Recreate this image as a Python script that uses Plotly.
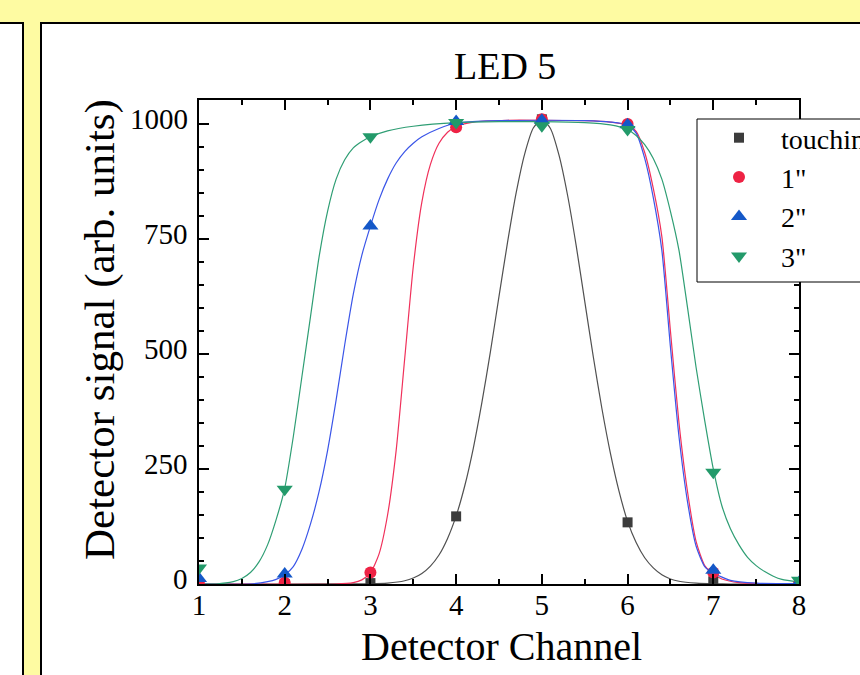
import plotly.graph_objects as go

# ---------------- data ----------------
channels = [1, 2, 3, 4, 5, 6, 7, 8]
touching = [0, 0, 2, 147, 1010, 134, 6, 0]
one_inch = [0, 3, 25, 993, 1010, 1000, 25, 0]
two_inch = [12, 22, 778, 1005, 1008, 998, 30, 3]
three_inch = [35, 206, 972, 1003, 996, 988, 243, 8]

y_tick_vals = [0, 250, 500, 750, 1000]
y_tick_text = ["0", "250", "500", "750", "1000"]

# fitted curves
fit_touch_x = [1.0, 2.0, 2.8, 3.0, 3.2, 3.4, 3.5, 3.6, 3.7, 3.8, 3.9, 4.0, 4.1, 4.2, 4.3, 4.4,
               4.5, 4.6, 4.7, 4.8, 4.9, 5.0, 5.1, 5.2, 5.3, 5.4, 5.5, 5.6, 5.7, 5.8, 5.9,
               6.0, 6.1, 6.2, 6.3, 6.4, 6.5, 6.6, 6.8, 7.0, 7.2, 8.0]
fit_touch_y = [0, 0, 0.3, 0.5, 2, 7, 13, 23, 39, 63, 99, 148, 213, 295, 394, 505,
               625, 743, 850, 935, 991, 1010, 990, 932, 845, 736, 615, 494, 382, 284, 202,
               136, 90, 57, 35, 20, 11, 6, 2, 0.5, 0, 0]

fit_one_x = [1.0, 2.6, 2.8, 2.9, 3.0, 3.1, 3.2, 3.3, 3.4, 3.5, 3.6, 3.7, 3.8, 3.9, 4.0, 4.2,
             4.6, 5.0, 5.5, 5.8, 6.0, 6.1, 6.2, 6.3, 6.4, 6.5, 6.6, 6.7, 6.8, 6.9, 7.0,
             7.1, 7.3, 7.6, 8.0]
fit_one_y = [0, 0, 3, 9, 24, 65, 150, 290, 490, 690, 830, 912, 958, 982, 995, 1004,
             1008, 1008, 1007, 1004, 997, 984, 938, 860, 755, 550, 350, 200, 92, 40, 21,
             11, 3, 0.5, 0]

fit_two_x = [1.0, 1.6, 1.8, 1.9, 2.0, 2.1, 2.2, 2.3, 2.4, 2.5, 2.6, 2.7, 2.8, 2.9, 3.0, 3.1,
             3.2, 3.3, 3.4, 3.5, 3.6, 3.8, 4.0, 4.3, 5.0, 5.5, 5.8, 6.0, 6.1, 6.2, 6.3,
             6.4, 6.5, 6.6, 6.7, 6.8, 6.9, 7.0, 7.2, 7.5, 8.0]
fit_two_y = [0, 0, 5, 10, 20, 38, 75, 130, 200, 290, 400, 520, 630, 715, 778, 835,
             880, 915, 940, 958, 972, 990, 1002, 1006, 1008, 1007, 1004, 998, 980, 925, 840,
             725, 515, 320, 178, 82, 38, 24, 8, 2, 1]

fit_three_x = [1.0, 1.2, 1.4, 1.5, 1.6, 1.7, 1.8, 1.9, 2.0, 2.1, 2.2, 2.3, 2.4, 2.5, 2.6, 2.7,
               2.8, 2.9, 3.0, 3.2, 3.5, 4.0, 4.5, 5.0, 5.5, 5.8, 6.0, 6.1, 6.2, 6.3, 6.4,
               6.5, 6.6, 6.7, 6.8, 6.9, 7.0, 7.1, 7.2, 7.3, 7.4, 7.5, 7.6, 7.7, 7.8, 8.0]
fit_three_y = [0, 0, 5, 12, 25, 48, 85, 140, 208, 320, 450, 580, 710, 810, 880, 922,
               948, 962, 972, 985, 995, 1003, 1005, 1005, 1003, 998, 988, 975, 955, 925, 880,
               810, 725, 600, 470, 355, 250, 170, 120, 85, 58, 40, 27, 17, 10, 4]

series_names = ["touching", "1\"", "2\"", "3\""]
marker_colors = ["#3c3c3c", "#ee2244", "#1458c8", "#239a6a"]
line_colors = ["#505050", "#f0305a", "#3a55e8", "#2f9e74"]
symbols = ["square", "circle", "triangle-up", "triangle-down"]
marker_sizes = [10, 12, 14, 14]

# ---------------- layout geometry (pixels) ----------------
W, H = 860, 675
L, R, T, B = 199, 61, 100, 91
PW, PH = W - L - R, H - T - B


def px(x):
    return (x - L) / PW


def py(y):
    return (H - B - y) / PH


SERIF = "Liberation Serif, Times New Roman, serif"

fig = go.Figure()

fits = [(fit_touch_x, fit_touch_y), (fit_one_x, fit_one_y),
        (fit_two_x, fit_two_y), (fit_three_x, fit_three_y)]
for (fx, fy), lc in zip(fits, line_colors):
    fig.add_trace(go.Scatter(x=fx, y=fy, mode="lines",
                             line=dict(color=lc, width=1.2, shape="spline", smoothing=0.6),
                             showlegend=False, hoverinfo="skip"))

for name, vals, mc, sym, ms in zip(series_names,
                                   [touching, one_inch, two_inch, three_inch],
                                   marker_colors, symbols, marker_sizes):
    fig.add_trace(go.Scatter(x=channels, y=vals, mode="markers", name=name,
                             marker=dict(color=mc, symbol=sym, size=ms, line=dict(width=0))))

axis_common = dict(
    showline=True, linecolor="black", linewidth=1.5, mirror="ticks",
    ticks="inside", ticklen=10, tickwidth=1.5, tickcolor="black",
    showgrid=False, zeroline=False,
    tickfont=dict(family=SERIF, size=29, color="black"),
)

fig.update_xaxes(range=[1, 8], tickmode="array", tickvals=channels,
                 ticktext=[str(c) for c in channels], ticklabelstandoff=-6,
                 minor=dict(ticks="inside", dtick=0.5, tick0=1, ticklen=5,
                            tickwidth=1.5, tickcolor="black"),
                 **axis_common)
fig.update_yaxes(range=[0, 1052], tickmode="array", tickvals=y_tick_vals,
                 showticklabels=False,
                 minor=dict(ticks="inside", dtick=50, tick0=0, ticklen=5,
                            tickwidth=1.5, tickcolor="black"),
                 **axis_common)

shapes = [
    # right white panel
    dict(type="rect", xref="paper", yref="paper",
         x0=px(41), x1=px(920), y0=py(740), y1=py(23),
         fillcolor="white", line=dict(color="black", width=2), layer="below"),
    # left white panel
    dict(type="rect", xref="paper", yref="paper",
         x0=px(-40), x1=px(23), y0=py(740), y1=py(23),
         fillcolor="white", line=dict(color="black", width=2), layer="below"),
    # legend box
    dict(type="rect", xref="paper", yref="paper",
         x0=px(697), x1=px(920), y0=py(282), y1=py(119),
         fillcolor="white", line=dict(color="black", width=1), layer="above"),
]

annotations = [
    dict(text="LED 5", xref="paper", yref="paper", x=px(505), y=py(66),
         xanchor="center", yanchor="middle", showarrow=False,
         font=dict(family=SERIF, size=38, color="black")),
    dict(text="Detector Channel", xref="paper", yref="paper", x=px(501), y=py(646),
         xanchor="center", yanchor="middle", showarrow=False,
         font=dict(family=SERIF, size=40, color="black")),
    dict(text="Detector signal (arb. units)", xref="paper", yref="paper",
         x=px(100), y=py(330), xanchor="center", yanchor="middle", textangle=-90,
         showarrow=False, font=dict(family=SERIF, size=43, color="black")),
]
# y tick labels (placed next to the axis, slightly raised as in the reference)
for v, t in zip(y_tick_vals, y_tick_text):
    annotations.append(dict(text=t, xref="paper", yref="y", x=px(189), y=v,
                            xanchor="right", yanchor="middle", yshift=5,
                            showarrow=False, borderpad=0,
                            font=dict(family=SERIF, size=29, color="black")))

fig.update_layout(
    width=W, height=H,
    margin=dict(l=L, r=R, t=T, b=B, autoexpand=False),
    paper_bgcolor="#fefba2",
    plot_bgcolor="rgba(0,0,0,0)",
    shapes=shapes,
    annotations=annotations,
    showlegend=True,
    legend=dict(x=px(697), y=py(113), xanchor="left", yanchor="top",
                bgcolor="rgba(0,0,0,0)", borderwidth=0,
                font=dict(family=SERIF, size=28, color="black"),
                itemwidth=74, tracegroupgap=0),
)

fig.write_html("out.html")
